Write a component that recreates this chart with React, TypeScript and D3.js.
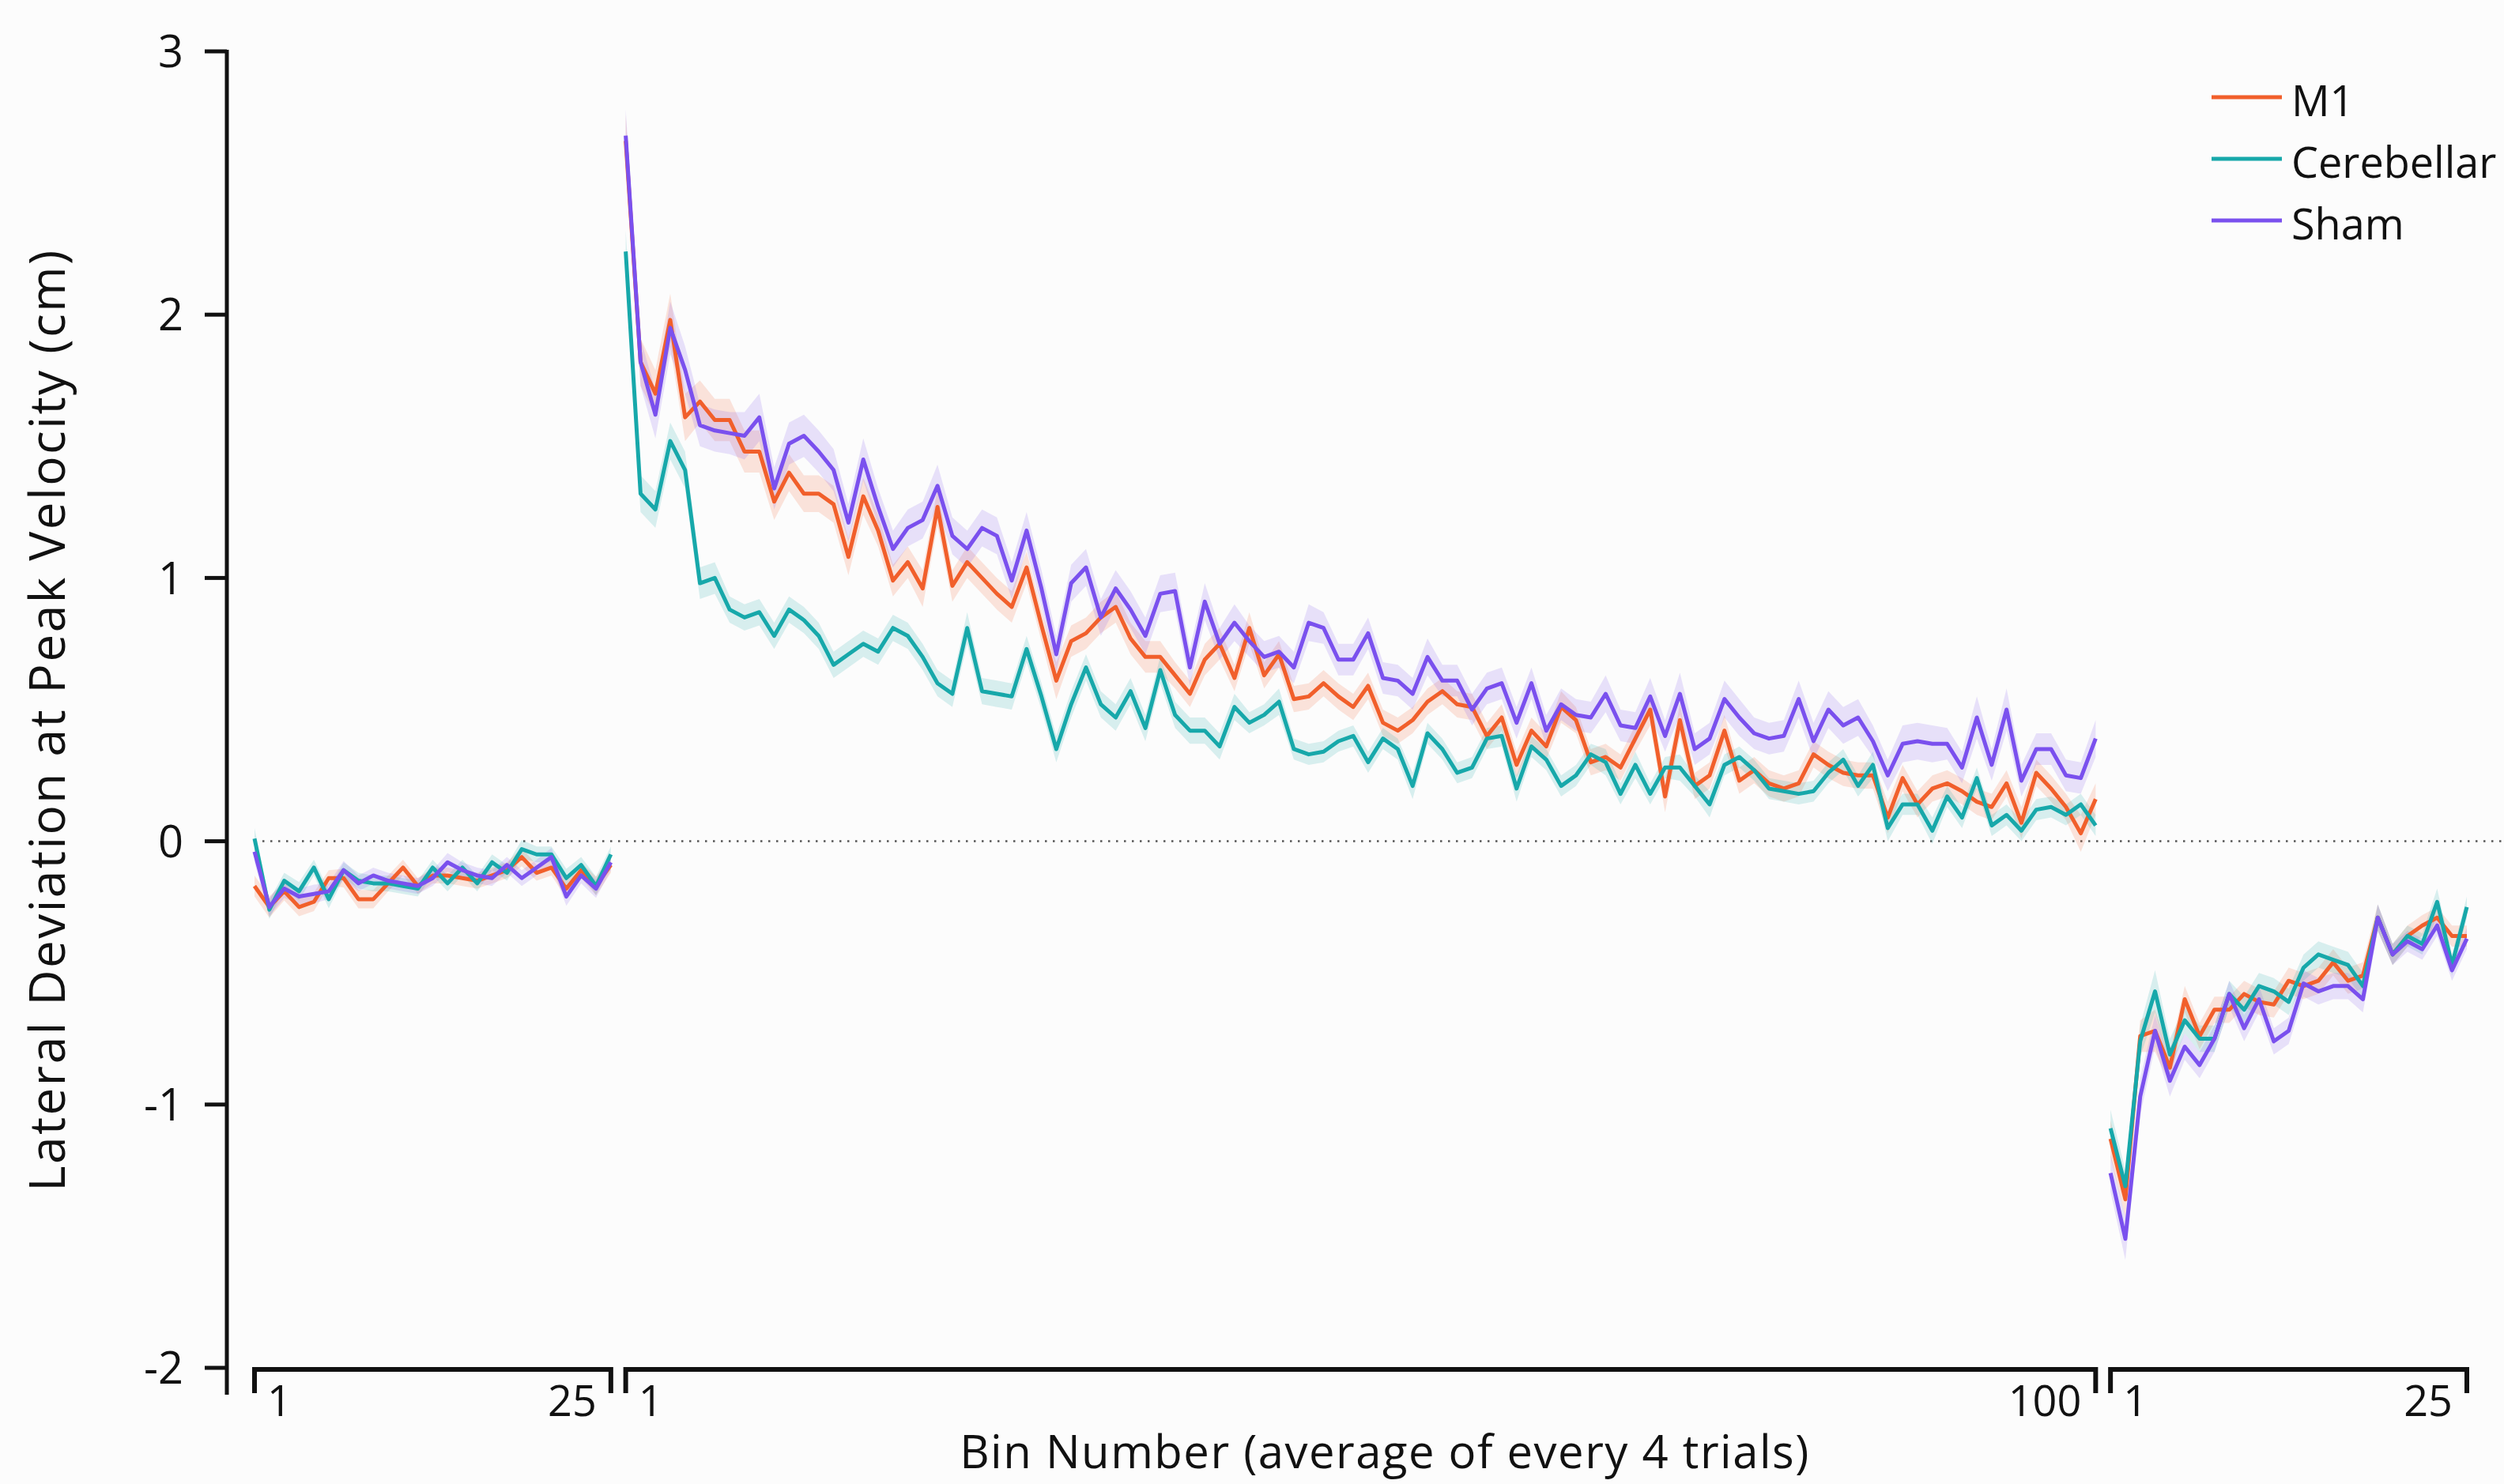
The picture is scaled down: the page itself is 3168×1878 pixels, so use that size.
import React from 'react';
import * as d3 from 'd3';

// groups and segment tick labels
const groups = ['M1', 'Cerebellar', 'Sham'];
const groupColors = ['#f15f2b', '#17a8aa', '#7a50ee'];
const segFirstLabels = ['1', '1', '1'];
const segLastLabels = ['25', '100', '25'];
const yTicks = [-2, -1, 0, 1, 2, 3];

// baseline (25 bins)
const m1Pre = [-0.17, -0.25, -0.19, -0.25, -0.23, -0.14, -0.14, -0.22, -0.22, -0.16, -0.10, -0.17, -0.13, -0.13, -0.14, -0.15, -0.13, -0.11, -0.06, -0.12, -0.10, -0.18, -0.11, -0.17, -0.09];
const cbPre = [0.01, -0.26, -0.15, -0.19, -0.10, -0.22, -0.11, -0.15, -0.16, -0.16, -0.17, -0.18, -0.10, -0.16, -0.10, -0.16, -0.08, -0.12, -0.03, -0.05, -0.05, -0.14, -0.09, -0.17, -0.05];
const shamPre = [-0.04, -0.25, -0.18, -0.21, -0.20, -0.19, -0.11, -0.16, -0.13, -0.15, -0.16, -0.17, -0.14, -0.08, -0.11, -0.13, -0.14, -0.09, -0.14, -0.10, -0.06, -0.21, -0.13, -0.18, -0.08];

// adaptation (100 bins)
const m1Adapt = [
  2.66, 1.82, 1.70, 1.98, 1.61, 1.67, 1.60, 1.60, 1.48, 1.48,
  1.29, 1.40, 1.32, 1.32, 1.28, 1.08, 1.31, 1.18, 0.99, 1.06,
  0.96, 1.27, 0.97, 1.06, 1.00, 0.94, 0.89, 1.04, 0.82, 0.61,
  0.76, 0.79, 0.85, 0.89, 0.77, 0.70, 0.70, 0.63, 0.56, 0.69,
  0.75, 0.62, 0.81, 0.63, 0.71, 0.54, 0.55, 0.60, 0.55, 0.51,
  0.59, 0.45, 0.42, 0.46, 0.53, 0.57, 0.52, 0.51, 0.40, 0.47,
  0.29, 0.42, 0.36, 0.51, 0.46, 0.30, 0.32, 0.28, 0.39, 0.50,
  0.17, 0.46, 0.21, 0.25, 0.42, 0.23, 0.27, 0.22, 0.20, 0.22,
  0.33, 0.29, 0.26, 0.25, 0.25, 0.09, 0.24, 0.14, 0.20, 0.22,
  0.19, 0.15, 0.13, 0.22, 0.07, 0.26, 0.20, 0.13, 0.03, 0.16
];
const cbAdapt = [
  2.24, 1.32, 1.26, 1.52, 1.41, 0.98, 1.00, 0.88, 0.85, 0.87,
  0.78, 0.88, 0.84, 0.78, 0.67, 0.71, 0.75, 0.72, 0.81, 0.78,
  0.70, 0.60, 0.56, 0.81, 0.57, 0.56, 0.55, 0.73, 0.55, 0.35,
  0.52, 0.66, 0.52, 0.47, 0.57, 0.43, 0.65, 0.48, 0.42, 0.42,
  0.36, 0.51, 0.45, 0.48, 0.53, 0.35, 0.33, 0.34, 0.38, 0.40,
  0.30, 0.39, 0.35, 0.21, 0.41, 0.35, 0.26, 0.28, 0.39, 0.40,
  0.20, 0.36, 0.31, 0.21, 0.25, 0.33, 0.30, 0.18, 0.29, 0.18,
  0.28, 0.28, 0.21, 0.14, 0.29, 0.32, 0.27, 0.20, 0.19, 0.18,
  0.19, 0.26, 0.31, 0.21, 0.29, 0.05, 0.14, 0.14, 0.04, 0.17,
  0.09, 0.24, 0.06, 0.10, 0.04, 0.12, 0.13, 0.10, 0.14, 0.06
];
const shamAdapt = [
  2.68, 1.82, 1.62, 1.95, 1.79, 1.58, 1.56, 1.55, 1.54, 1.61,
  1.34, 1.51, 1.54, 1.48, 1.41, 1.21, 1.45, 1.27, 1.11, 1.19,
  1.22, 1.35, 1.16, 1.11, 1.19, 1.16, 0.99, 1.18, 0.96, 0.71,
  0.98, 1.04, 0.85, 0.96, 0.88, 0.78, 0.94, 0.95, 0.66, 0.91,
  0.75, 0.83, 0.76, 0.70, 0.72, 0.66, 0.83, 0.81, 0.69, 0.69,
  0.79, 0.62, 0.61, 0.56, 0.70, 0.61, 0.61, 0.50, 0.58, 0.60,
  0.45, 0.60, 0.42, 0.52, 0.48, 0.47, 0.56, 0.44, 0.43, 0.55,
  0.40, 0.56, 0.35, 0.39, 0.54, 0.47, 0.41, 0.39, 0.40, 0.54,
  0.38, 0.50, 0.44, 0.47, 0.38, 0.25, 0.37, 0.38, 0.37, 0.37,
  0.28, 0.47, 0.29, 0.50, 0.23, 0.35, 0.35, 0.25, 0.24, 0.39
];

// washout (25 bins)
const m1Post = [-1.13, -1.36, -0.74, -0.72, -0.86, -0.60, -0.74, -0.64, -0.64, -0.58, -0.61, -0.62, -0.53, -0.55, -0.53, -0.46, -0.53, -0.51, -0.29, -0.43, -0.36, -0.32, -0.29, -0.36, -0.36];
const cbPost = [-1.09, -1.31, -0.76, -0.57, -0.81, -0.68, -0.75, -0.75, -0.58, -0.64, -0.55, -0.57, -0.61, -0.48, -0.43, -0.45, -0.47, -0.55, -0.29, -0.43, -0.36, -0.39, -0.23, -0.47, -0.25];
const shamPost = [-1.26, -1.51, -0.97, -0.72, -0.91, -0.78, -0.85, -0.75, -0.58, -0.71, -0.60, -0.76, -0.72, -0.54, -0.57, -0.55, -0.55, -0.60, -0.29, -0.43, -0.38, -0.41, -0.32, -0.49, -0.37];

// standard error bands
const m1PreSem = [0.04, 0.04, 0.035, 0.035, 0.035, 0.03, 0.035, 0.035, 0.035, 0.03, 0.03, 0.03, 0.03, 0.03, 0.03, 0.03, 0.03, 0.03, 0.035, 0.03, 0.03, 0.035, 0.03, 0.035, 0.03];
const cbPreSem = [0.04, 0.035, 0.03, 0.035, 0.03, 0.035, 0.03, 0.03, 0.03, 0.03, 0.03, 0.03, 0.03, 0.03, 0.03, 0.03, 0.03, 0.03, 0.035, 0.03, 0.03, 0.035, 0.03, 0.035, 0.03];
const shamPreSem = [0.04, 0.035, 0.035, 0.03, 0.035, 0.03, 0.035, 0.03, 0.03, 0.03, 0.03, 0.03, 0.03, 0.035, 0.03, 0.03, 0.03, 0.03, 0.03, 0.03, 0.035, 0.035, 0.03, 0.035, 0.03];
const m1AdaptSem = [
  0.10, 0.09, 0.09, 0.10, 0.09, 0.08, 0.08, 0.08, 0.08, 0.08,
  0.07, 0.07, 0.07, 0.07, 0.07, 0.07, 0.07, 0.06, 0.06, 0.06,
  0.07, 0.07, 0.06, 0.06, 0.06, 0.06, 0.06, 0.06, 0.06, 0.07,
  0.06, 0.06, 0.06, 0.06, 0.06, 0.06, 0.06, 0.05, 0.05, 0.06,
  0.06, 0.05, 0.06, 0.05, 0.05, 0.05, 0.05, 0.05, 0.05, 0.05,
  0.05, 0.05, 0.05, 0.05, 0.05, 0.05, 0.05, 0.05, 0.05, 0.05,
  0.05, 0.05, 0.05, 0.06, 0.05, 0.05, 0.05, 0.05, 0.05, 0.06,
  0.06, 0.06, 0.05, 0.05, 0.06, 0.05, 0.05, 0.05, 0.05, 0.05,
  0.05, 0.05, 0.05, 0.05, 0.05, 0.06, 0.05, 0.05, 0.05, 0.05,
  0.05, 0.05, 0.05, 0.05, 0.06, 0.05, 0.05, 0.05, 0.07, 0.06
];
const cbAdaptSem = [
  0.08, 0.07, 0.07, 0.07, 0.07, 0.06, 0.06, 0.05, 0.05, 0.05,
  0.05, 0.05, 0.05, 0.05, 0.05, 0.05, 0.05, 0.05, 0.05, 0.05,
  0.05, 0.05, 0.05, 0.06, 0.05, 0.05, 0.05, 0.05, 0.05, 0.05,
  0.05, 0.05, 0.05, 0.05, 0.05, 0.05, 0.05, 0.05, 0.05, 0.05,
  0.05, 0.05, 0.04, 0.04, 0.05, 0.04, 0.04, 0.04, 0.04, 0.04,
  0.04, 0.04, 0.04, 0.05, 0.04, 0.04, 0.04, 0.04, 0.04, 0.04,
  0.05, 0.04, 0.04, 0.04, 0.04, 0.04, 0.05, 0.04, 0.05, 0.04,
  0.04, 0.05, 0.04, 0.05, 0.04, 0.04, 0.04, 0.04, 0.04, 0.04,
  0.04, 0.04, 0.04, 0.04, 0.05, 0.05, 0.04, 0.04, 0.05, 0.04,
  0.04, 0.04, 0.04, 0.04, 0.04, 0.04, 0.04, 0.04, 0.04, 0.04
];
const shamAdaptSem = [
  0.10, 0.09, 0.09, 0.10, 0.09, 0.08, 0.08, 0.08, 0.09, 0.09,
  0.08, 0.08, 0.08, 0.08, 0.08, 0.07, 0.08, 0.07, 0.07, 0.07,
  0.07, 0.08, 0.07, 0.07, 0.07, 0.07, 0.07, 0.07, 0.07, 0.07,
  0.07, 0.07, 0.07, 0.07, 0.07, 0.07, 0.07, 0.07, 0.07, 0.07,
  0.06, 0.07, 0.06, 0.06, 0.06, 0.06, 0.07, 0.06, 0.06, 0.06,
  0.06, 0.06, 0.06, 0.06, 0.07, 0.06, 0.06, 0.06, 0.06, 0.06,
  0.06, 0.06, 0.06, 0.06, 0.06, 0.06, 0.07, 0.06, 0.06, 0.07,
  0.06, 0.08, 0.06, 0.06, 0.07, 0.07, 0.06, 0.06, 0.06, 0.07,
  0.07, 0.07, 0.07, 0.07, 0.06, 0.06, 0.07, 0.07, 0.07, 0.06,
  0.06, 0.08, 0.06, 0.08, 0.06, 0.06, 0.06, 0.06, 0.06, 0.07
];
const m1PostSem = [0.07, 0.07, 0.06, 0.08, 0.06, 0.05, 0.05, 0.05, 0.05, 0.05, 0.05, 0.05, 0.05, 0.05, 0.05, 0.05, 0.05, 0.05, 0.05, 0.04, 0.04, 0.04, 0.04, 0.04, 0.04];
const cbPostSem = [0.07, 0.06, 0.06, 0.08, 0.06, 0.05, 0.05, 0.05, 0.05, 0.05, 0.05, 0.05, 0.05, 0.05, 0.05, 0.05, 0.05, 0.05, 0.05, 0.04, 0.04, 0.04, 0.05, 0.04, 0.04];
const shamPostSem = [0.07, 0.08, 0.07, 0.06, 0.06, 0.05, 0.05, 0.05, 0.05, 0.05, 0.05, 0.05, 0.05, 0.05, 0.05, 0.05, 0.05, 0.05, 0.05, 0.04, 0.04, 0.04, 0.04, 0.04, 0.04];

const W = 3168;
const H = 1878;
const FONT = '"Open Sans", "Noto Sans", sans-serif';

export default function App() {
  // one continuous bin index across the three blocks
  const segStarts = [0, 25, 125];
  const segLengths = [25, 100, 25];
  const series = [
    { means: [m1Pre, m1Adapt, m1Post], sems: [m1PreSem, m1AdaptSem, m1PostSem] },
    { means: [cbPre, cbAdapt, cbPost], sems: [cbPreSem, cbAdaptSem, cbPostSem] },
    { means: [shamPre, shamAdapt, shamPost], sems: [shamPreSem, shamAdaptSem, shamPostSem] },
  ];

  const x = d3.scaleLinear().domain([0, 149]).range([322, 3121]);
  const y = d3.scaleLinear().domain([-2, 3]).range([1731, 65]);

  const line = d3.line<[number, number]>().x(d => x(d[0])).y(d => y(d[1]));
  const area = d3.area<[number, number, number]>()
    .x(d => x(d[0]))
    .y0(d => y(d[1] - d[2]))
    .y1(d => y(d[1] + d[2]));

  const axisX = 287;
  const bracketY = 1733;

  return (
    <svg width={W} height={H} style={{ position: 'fixed', left: 0, top: 0, background: '#fcfcfc' }}
      fontFamily={FONT}>
      <rect width={W} height={H} fill="#fcfcfc" />

      {/* zero reference */}
      <line x1={x(0)} x2={W} y1={y(0)} y2={y(0)} stroke="#555" strokeWidth={2.5}
        strokeDasharray="2.5 7.5" />

      {/* error bands */}
      {series.map((s, gi) => s.means.map((vals, si) => (
        <path key={`band-${gi}-${si}`}
          d={area(vals.map((v, i) => [segStarts[si] + i, v, s.sems[si][i]] as [number, number, number])) || ''}
          fill={groupColors[gi]} fillOpacity={0.16} stroke="none" />
      )))}

      {/* mean lines */}
      {series.map((s, gi) => s.means.map((vals, si) => (
        <path key={`line-${gi}-${si}`}
          d={line(vals.map((v, i) => [segStarts[si] + i, v] as [number, number])) || ''}
          fill="none" stroke={groupColors[gi]} strokeWidth={5} strokeLinejoin="round" />
      )))}

      {/* y axis */}
      <line x1={axisX} x2={axisX} y1={y(3) - 2} y2={1765} stroke="#111" strokeWidth={5} />
      {yTicks.map(t => (
        <g key={t}>
          <line x1={259} x2={axisX} y1={y(t)} y2={y(t)} stroke="#111" strokeWidth={5} />
          <text x={232} y={y(t)} dy="0.36em" textAnchor="end" fontSize={56} fill="#111">{t}</text>
        </g>
      ))}
      <text transform={`translate(60, 911) rotate(-90)`} textAnchor="middle" dy="0.36em"
        fontSize={62} letterSpacing={2.5} fill="#111">Lateral Deviation at Peak Velocity (cm)</text>

      {/* block brackets on the x axis */}
      {segStarts.map((s, si) => {
        const x0 = x(s);
        const x1 = x(s + segLengths[si] - 1);
        return (
          <g key={`br-${si}`}>
            <path d={`M${x0},${bracketY + 30}V${bracketY}H${x1}V${bracketY + 30}`}
              fill="none" stroke="#111" strokeWidth={6} />
            <text x={x0 + 16} y={1792} fontSize={54} fill="#111">{segFirstLabels[si]}</text>
            <text x={x1 - 18} y={1792} textAnchor="end" fontSize={54} fill="#111">{segLastLabels[si]}</text>
          </g>
        );
      })}
      <text x={1752} y={1858} textAnchor="middle" fontSize={58} letterSpacing={1.5} fill="#111">
        Bin Number (average of every 4 trials)
      </text>

      {/* legend */}
      {groups.map((g, gi) => {
        const ly = 123 + gi * 78;
        return (
          <g key={g}>
            <line x1={2798} x2={2887} y1={ly} y2={ly} stroke={groupColors[gi]} strokeWidth={5} />
            <text x={2899} y={ly + 24} fontSize={54} fill="#111">{g}</text>
          </g>
        );
      })}
    </svg>
  );
}
